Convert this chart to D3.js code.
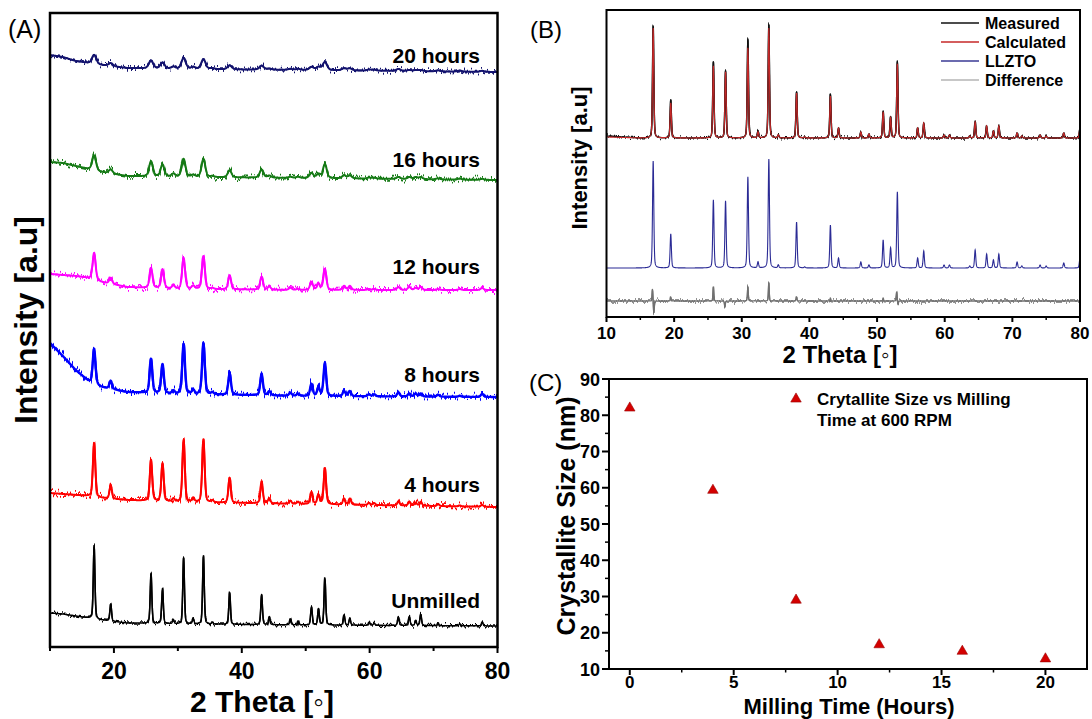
<!DOCTYPE html>
<html>
<head>
<meta charset="utf-8">
<script src="https://cdn.jsdelivr.net/npm/d3@7"></script>
<style>
  body { margin: 0; background: #fff; }
  svg { display: block; }
</style>
</head>
<body>
<svg id="fig" width="1092" height="719"></svg>
<script>
// ---------- Panel A: XRD patterns vs milling time ----------
const peakTheta = [16.9, 19.5, 25.8, 27.6, 29.3, 30.9, 32.4, 34.0, 35.4, 38.1, 43.1, 44.3, 47.6, 48.8,
                   50.9, 52.0, 53.0, 56.0, 56.9, 59.9, 60.7, 64.5, 66.2, 67.2, 68.0, 70.7, 74.1, 77.6];
const hUnmilled = [73, 17, 50, 35, 4, 66, 5, 68, 2, 32, 30, 8, 6, 4, 18, 16, 47, 10, 7, 3, 2, 8, 9, 5, 11, 3, 2, 4];
const h4h       = [54, 13, 41, 38, 3, 62, 4, 63, 2, 25, 22, 5, 3, 2, 12, 9, 36, 6, 6, 2, 2, 4, 4, 3, 4, 2, 1, 2];
const h8h       = [35, 8, 34, 29, 3, 50, 4, 51, 2, 21, 21, 4, 3, 2, 12, 8, 33, 5, 5, 2, 2, 4, 3, 3, 3, 2, 1, 3];
const h12h      = [27, 6, 20, 19, 3, 31, 3, 33, 1, 14, 13, 3, 2, 1, 8, 6, 21, 4, 4, 1, 1, 3, 3, 2, 3, 1, 1, 2];
const h16h      = [15, 4, 15, 12, 3, 18, 2, 18, 1, 7, 8, 2, 1, 1, 5, 4, 14, 3, 3, 1, 1, 2, 2, 2, 2, 1, 1, 1];
const h20h      = [9, 3, 8, 6, 2, 11, 2, 10, 1, 4, 4, 1, 1, 1, 3, 3, 8, 2, 2, 1, 1, 2, 1, 1, 1, 1, 1, 1];

// background level (stacked, a.u.) at these angles
const bgTheta    = [10, 12, 14, 16, 18, 22, 30, 50, 80];
const bgUnmilled = [34, 33, 31, 29, 27, 24, 23, 22, 21];
const bg4h       = [154, 153, 152, 151, 149, 147, 145, 143, 140];
const bg8h       = [304, 291, 277, 266, 260, 255, 253, 251, 250];
const bg12h      = [373, 372, 371, 369, 365, 360, 358, 357, 357];
const bg16h      = [485, 484, 481, 478, 475, 471, 470, 469, 467];
const bg20h      = [592, 590, 586, 584, 582, 579, 578, 577, 575];

// peak FWHM (degrees) for each sample
const fwhmA = [0.3, 0.45, 0.5, 0.55, 0.7, 0.8];
const sampleNames = ["Unmilled", "4 hours", "8 hours", "12 hours", "16 hours", "20 hours"];
const thetaTicksA = [10, 20, 30, 40, 50, 60, 70, 80];
const thetaLabelsA = [20, 40, 60, 80];

// ---------- Panel B: Rietveld refinement ----------
const bPeakTheta = [16.9, 19.5, 25.8, 27.6, 30.9, 32.4, 34.0, 35.4, 38.1, 39.3, 43.1, 44.3, 47.6, 48.8, 50.9, 52.0,
                    53.0, 56.0, 56.9, 59.9, 60.7, 63.7, 64.5, 66.2, 67.2, 68.0, 70.7, 71.4, 74.1, 75.0, 77.6, 80.0];
const measH  = [112, 38, 76, 67, 98, 7, 113, 3, 46, 1, 44, 10, 6, 4, 27, 21, 76, 10, 15, 3, 3, 2, 17, 12, 7, 12, 5, 2, 3, 2, 5, 10];
const calcH  = [110, 35, 72, 66, 90, 6, 110, 3, 45, 1, 42, 10, 6, 4, 26, 20, 74, 10, 15, 3, 3, 2, 16, 12, 7, 12, 5, 2, 3, 2, 5, 10];
const llztoH = [107, 34, 68, 67, 91, 6, 109, 3, 46, 1, 43, 10, 6, 3, 28, 20, 76, 10, 17, 3, 3, 2, 18, 14, 8, 14, 6, 2, 3, 2, 5, 10];
const bBgTheta = [10, 15, 80];
const measBg   = [181, 179, 179];
const calcBg   = [180, 179, 179];
const llztoBg  = [49, 49, 49];
const diffTheta = [16.8, 17.0, 19.5, 25.8, 27.5, 30.9, 34.0, 38.1, 43.1, 50.9, 52.9, 53.1];
const diffAmp   = [12, -12, 4, 14, -6, 14, 18, 4, 3, 3, 9, -4];
const diffBg    = [16, 16, 16];
const legendB = ["Measured", "Calculated", "LLZTO", "Difference"];
const thetaTicksB = [10, 20, 30, 40, 50, 60, 70, 80];
const thetaMinorB = [15, 25, 35, 45, 55, 65, 75];

// ---------- Panel C: crystallite size ----------
const millingHours = [0, 4, 8, 12, 16, 20];
const crystalliteSize = [82, 59.3, 29, 16.7, 14.9, 12.8];
const hourTicks = [0, 5, 10, 15, 20];
const hourMinor = [2.5, 7.5, 12.5, 17.5];
const sizeTicks = [10, 20, 30, 40, 50, 60, 70, 80, 90];
const sizeMinor = [15, 25, 35, 45, 55, 65, 75, 85];

// ---------- drawing ----------
const FONT = '"Liberation Sans", Arial, Helvetica, sans-serif';
const svg = d3.select("#fig").style("font-family", FONT);
const defs = svg.append("defs");

// counting-noise texture for measured traces
function jitterFilter(id, scale, seed) {
  const f = defs.append("filter").attr("id", id)
    .attr("filterUnits", "userSpaceOnUse")
    .attr("x", 0).attr("y", 0).attr("width", 1092).attr("height", 719)
    .attr("color-interpolation-filters", "sRGB");
  f.append("feTurbulence").attr("type", "fractalNoise").attr("baseFrequency", "0.7 0.015")
    .attr("numOctaves", 2).attr("seed", seed).attr("result", "n");
  f.append("feColorMatrix").attr("in", "n").attr("type", "matrix")
    .attr("values", "0 0 0 0 0.5  1 0 0 0 0  0 0 0 0 0  0 0 0 0 1").attr("result", "m");
  f.append("feDisplacementMap").attr("in", "SourceGraphic").attr("in2", "m")
    .attr("scale", scale).attr("xChannelSelector", "R").attr("yChannelSelector", "G");
}
jitterFilter("noiseStrong", 16, 3);
jitterFilter("noiseMid", 13, 7);
jitterFilter("noiseLight", 8, 11);

// pattern = background + pseudo-Voigt reflections
function pattern(bgT, bgV, pos, amp, fwhm) {
  const bg = d3.scaleLinear().domain(bgT).range(bgV);
  const hw = fwhm / 2;
  const pts = [];
  for (let k = 0; k <= 3500; k++) {
    const t = 10 + k * 0.02;
    let v = bg(t);
    for (let i = 0; i < pos.length; i++) {
      const d = (t - pos[i]) / hw;
      if (Math.abs(d) > 60) continue;
      v += amp[i] * (0.35 / (1 + d * d) + 0.65 * Math.exp(-Math.LN2 * d * d));
    }
    pts.push([t, v]);
  }
  return pts;
}

// a continuous core stroke plus a jittered copy for the noise band
function noisyTrace(g, data, line, color, core, jitter, filterId) {
  g.append("path").datum(data).attr("d", line).attr("fill", "none")
    .attr("stroke", color).attr("stroke-width", core).attr("stroke-linejoin", "round");
  g.append("path").datum(data).attr("d", line).attr("fill", "none")
    .attr("stroke", color).attr("stroke-width", jitter).attr("stroke-linejoin", "round")
    .attr("filter", `url(#${filterId})`);
}

function bold(sel, size) {
  return sel.attr("font-weight", "bold").attr("font-size", size).attr("fill", "#000");
}

// ===== Panel A =====
const xA = d3.scaleLinear().domain([10, 80]).range([50, 497.5]);
const yA = d3.scaleLinear().domain([0, 634]).range([647, 13]);
const gA = svg.append("g");

const seriesA = [
  { name: sampleNames[0], bg: bgUnmilled, h: hUnmilled, w: fwhmA[0], color: "#000000", f: "noiseLight", core: 1.5, jit: 1.5, labelY: 608 },
  { name: sampleNames[1], bg: bg4h, h: h4h, w: fwhmA[1], color: "#ff0000", f: "noiseMid", core: 2.0, jit: 1.8, labelY: 492 },
  { name: sampleNames[2], bg: bg8h, h: h8h, w: fwhmA[2], color: "#0000ff", f: "noiseStrong", core: 2.4, jit: 2.0, labelY: 382 },
  { name: sampleNames[3], bg: bg12h, h: h12h, w: fwhmA[3], color: "#ff00ff", f: "noiseMid", core: 2.0, jit: 1.8, labelY: 274 },
  { name: sampleNames[4], bg: bg16h, h: h16h, w: fwhmA[4], color: "#157a15", f: "noiseMid", core: 2.0, jit: 1.8, labelY: 167 },
  { name: sampleNames[5], bg: bg20h, h: h20h, w: fwhmA[5], color: "#13136e", f: "noiseMid", core: 2.0, jit: 1.8, labelY: 63 }
];
const lineA = d3.line().x(d => xA(d[0])).y(d => yA(d[1]));
seriesA.forEach(s => {
  noisyTrace(gA, pattern(bgTheta, s.bg, peakTheta, s.h, s.w), lineA, s.color, s.core, s.jit, s.f);
  bold(gA.append("text"), 21).attr("x", 480).attr("y", s.labelY)
    .attr("text-anchor", "end").text(s.name);
});

gA.append("rect").attr("x", xA(10)).attr("y", yA(634)).attr("width", xA(80) - xA(10))
  .attr("height", yA(0) - yA(634)).attr("fill", "none").attr("stroke", "#000").attr("stroke-width", 2.5);
gA.selectAll(".tkA").data(thetaTicksA).join("line")
  .attr("x1", d => xA(d)).attr("x2", d => xA(d))
  .attr("y1", yA(0)).attr("y2", d => yA(0) + (thetaLabelsA.includes(d) ? 6 : 4))
  .attr("stroke", "#000").attr("stroke-width", 2);
gA.selectAll(".lbA").data(thetaLabelsA).join("text")
  .call(s => bold(s, 23)).attr("x", d => xA(d)).attr("y", 679)
  .attr("text-anchor", "middle").text(d => d);
bold(gA.append("text"), 30).attr("x", 262).attr("y", 712).attr("text-anchor", "middle").text("2 Theta [◦]");
bold(gA.append("text"), 32).attr("transform", "translate(37,320) rotate(-90)")
  .attr("text-anchor", "middle").text("Intensity [a.u]");
gA.append("text").attr("x", 8).attr("y", 38).attr("font-size", 25).attr("fill", "#000").text("(A)");

// ===== Panel B =====
const xB = d3.scaleLinear().domain([10, 80]).range([606.5, 1080]);
const yB = d3.scaleLinear().domain([0, 307]).range([317, 10]);
const gB = svg.append("g");
const lineB = d3.line().x(d => xB(d[0])).y(d => yB(d[1]));
const fwB = 0.22;

noisyTrace(gB, pattern(bBgTheta, diffBg, diffTheta, diffAmp, 0.14), lineB, "#707070", 1.3, 1.3, "noiseLight");
gB.append("path").datum(pattern(bBgTheta, llztoBg, bPeakTheta, llztoH, fwB))
  .attr("d", lineB).attr("fill", "none").attr("stroke", "#2b2b95").attr("stroke-width", 1.1);
noisyTrace(gB, pattern(bBgTheta, measBg, bPeakTheta, measH, fwB), lineB, "#111", 1.4, 1.4, "noiseLight");
gB.append("path").datum(pattern(bBgTheta, calcBg, bPeakTheta, calcH, fwB))
  .attr("d", lineB).attr("fill", "none").attr("stroke", "#c62828").attr("stroke-width", 1.1);

gB.append("rect").attr("x", xB(10)).attr("y", yB(307)).attr("width", xB(80) - xB(10))
  .attr("height", yB(0) - yB(307)).attr("fill", "none").attr("stroke", "#000").attr("stroke-width", 2);
gB.selectAll(".tkB").data(thetaTicksB).join("line")
  .attr("x1", d => xB(d)).attr("x2", d => xB(d)).attr("y1", yB(0)).attr("y2", yB(0) + 5)
  .attr("stroke", "#000").attr("stroke-width", 2);
gB.selectAll(".mtB").data(thetaMinorB).join("line")
  .attr("x1", d => xB(d)).attr("x2", d => xB(d)).attr("y1", yB(0)).attr("y2", yB(0) + 3)
  .attr("stroke", "#000").attr("stroke-width", 1.5);
gB.selectAll(".lbB").data(thetaTicksB).join("text")
  .call(s => bold(s, 17)).attr("x", d => xB(d)).attr("y", 339)
  .attr("text-anchor", "middle").text(d => d);
bold(gB.append("text"), 24).attr("x", 840).attr("y", 363).attr("text-anchor", "middle").text("2 Theta [◦]");
bold(gB.append("text"), 22).attr("transform", "translate(587,158) rotate(-90)")
  .attr("text-anchor", "middle").text("Intensity [a.u]");
gB.append("text").attr("x", 530).attr("y", 38).attr("font-size", 24).attr("fill", "#000").text("(B)");

const legendColors = ["#111111", "#c62828", "#3a3a95", "#b5b5b5"];
const legY = d3.scalePoint().domain(legendB).range([23, 80]);
const legG = gB.selectAll(".leg").data(legendB).join("g");
legG.append("line").attr("x1", 941).attr("x2", 979)
  .attr("y1", d => legY(d)).attr("y2", d => legY(d))
  .attr("stroke", (d, i) => legendColors[i]).attr("stroke-width", 1.5);
legG.append("text").call(s => bold(s, 16)).attr("x", 985).attr("y", d => legY(d) + 6).text(d => d);

// ===== Panel C =====
const xC = d3.scaleLinear().domain([-1, 22]).range([609, 1087]);
const yC = d3.scaleLinear().domain([10, 90]).range([669, 379]);
const gC = svg.append("g");

gC.append("rect").attr("x", xC(-1)).attr("y", yC(90)).attr("width", xC(22) - xC(-1))
  .attr("height", yC(10) - yC(90)).attr("fill", "none").attr("stroke", "#000").attr("stroke-width", 2);
gC.selectAll(".txC").data(hourTicks).join("line")
  .attr("x1", d => xC(d)).attr("x2", d => xC(d)).attr("y1", yC(10)).attr("y2", yC(10) + 6)
  .attr("stroke", "#000").attr("stroke-width", 2);
gC.selectAll(".mxC").data(hourMinor).join("line")
  .attr("x1", d => xC(d)).attr("x2", d => xC(d)).attr("y1", yC(10)).attr("y2", yC(10) + 3.5)
  .attr("stroke", "#000").attr("stroke-width", 1.5);
gC.selectAll(".tyC").data(sizeTicks).join("line")
  .attr("x1", xC(-1)).attr("x2", xC(-1) - 7).attr("y1", d => yC(d)).attr("y2", d => yC(d))
  .attr("stroke", "#000").attr("stroke-width", 2);
gC.selectAll(".myC").data(sizeMinor).join("line")
  .attr("x1", xC(-1)).attr("x2", xC(-1) - 4).attr("y1", d => yC(d)).attr("y2", d => yC(d))
  .attr("stroke", "#000").attr("stroke-width", 1.5);
gC.selectAll(".lxC").data(hourTicks).join("text")
  .call(s => bold(s, 17)).attr("x", d => xC(d)).attr("y", 688)
  .attr("text-anchor", "middle").text(d => d);
gC.selectAll(".lyC").data(sizeTicks).join("text")
  .call(s => bold(s, 18)).attr("x", 600).attr("y", d => yC(d) + 6.5)
  .attr("text-anchor", "end").text(d => d);
bold(gC.append("text"), 22).attr("x", 849).attr("y", 714).attr("text-anchor", "middle").text("Milling Time (Hours)");
bold(gC.append("text"), 25).attr("transform", "translate(575,516) rotate(-90)")
  .attr("text-anchor", "middle").text("Crystallite Size (nm)");
gC.append("text").attr("x", 529).attr("y", 391).attr("font-size", 24).attr("fill", "#000").text("(C)");

const tri = d3.symbol().type(d3.symbolTriangle).size(48);
gC.selectAll(".pt").data(millingHours).join("path")
  .attr("d", tri)
  .attr("transform", (d, i) => `translate(${xC(d)},${yC(crystalliteSize[i])})`)
  .attr("fill", "#d40000").attr("stroke", "#9a0000").attr("stroke-width", 0.6);

gC.append("path").attr("d", tri).attr("transform", "translate(796,399)")
  .attr("fill", "#d40000").attr("stroke", "#9a0000").attr("stroke-width", 0.6);
bold(gC.append("text"), 17).attr("x", 817).attr("y", 405).text("Crytallite Size vs Milling");
bold(gC.append("text"), 17).attr("x", 817).attr("y", 426).text("Time at 600 RPM");
</script>
</body>
</html>
